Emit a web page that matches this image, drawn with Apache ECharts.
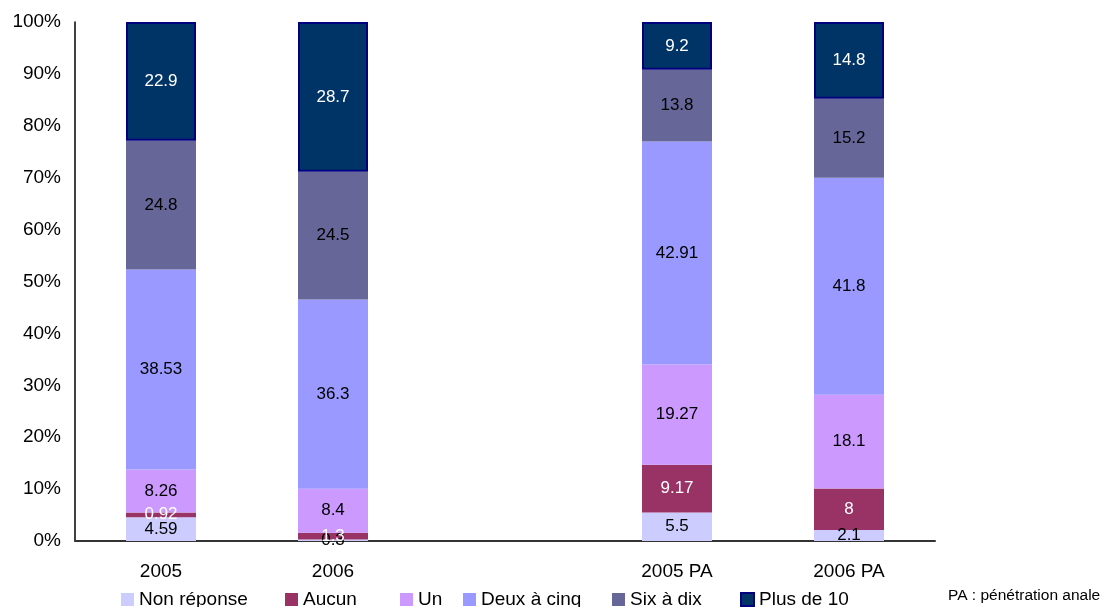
<!DOCTYPE html>
<html>
<head>
<meta charset="utf-8">
<script src="https://cdn.jsdelivr.net/npm/echarts@6/dist/echarts.min.js"></script>
<style>
html,body{margin:0;padding:0;background:#fff;}
#c{width:1112px;height:607px;}
</style>
</head>
<body>
<div id="c"></div>
<script>
const categories = ['2005', '2006', '', '2005 PA', '2006 PA'];
const seriesNames = ['Non réponse', 'Aucun', 'Un', 'Deux à cinq', 'Six à dix', 'Plus de 10'];
const nonReponse = [4.59, 0.3, null, 5.5, 2.1];
const aucun = [0.92, 1.3, null, 9.17, 8];
const un = [8.26, 8.4, null, 19.27, 18.1];
const deuxACinq = [38.53, 36.3, null, 42.91, 41.8];
const sixADix = [24.8, 24.5, null, 13.8, 15.2];
const plusDe10 = [22.9, 28.7, null, 9.2, 14.8];
const yTicks = ['0%', '10%', '20%', '30%', '40%', '50%', '60%', '70%', '80%', '90%', '100%'];

const colors = ['#CCCCFF', '#993366', '#CC99FF', '#9999FF', '#666699', '#003366'];
const labelColors = ['#000', '#fff', '#000', '#000', '#000', '#fff'];
const raw = [nonReponse, aucun, un, deuxACinq, sixADix, plusDe10];

const totals = categories.map((c, i) => raw.reduce((s, arr) => s + (arr[i] || 0), 0));

const font = 'Liberation Sans, Arial, sans-serif';

const series = raw.map((arr, k) => ({
  name: seriesNames[k],
  type: 'bar',
  stack: 'total',
  barWidth: 70,
  itemStyle: k === 5 ? { color: colors[k], borderColor: '#000080', borderWidth: 2 } : { color: colors[k] },
  label: {
    show: true,
    position: 'inside',
    color: labelColors[k],
    fontFamily: font,
    fontSize: 17,
    formatter: p => String(arr[p.dataIndex])
  },
  data: arr.map((v, i) => v == null ? null : v / totals[i] * 100)
}));

const legendLeft = [121, 285, 400, 463, 612, 740];
const legends = seriesNames.map((n, k) => ({
  data: [n],
  left: legendLeft[k],
  top: 590,
  itemWidth: 13,
  itemHeight: 13,
  itemGap: 0,
  textStyle: { fontFamily: font, fontSize: 19, color: '#000' },
  icon: 'rect',
  padding: 0,
  selectedMode: false
}));

const chart = echarts.init(document.getElementById('c'));
chart.setOption({
  animation: false,
  backgroundColor: '#fff',
  color: colors,
  grid: { left: 75, right: 177, top: 22, bottom: 66 },
  legend: legends,
  graphic: [{
    type: 'text',
    left: 948,
    top: 588,
    style: { text: 'PA : pénétration anale', font: '15.5px ' + font, fill: '#000' }
  }],
  xAxis: {
    type: 'category',
    data: categories,
    axisLine: { lineStyle: { color: '#333', width: 2 } },
    axisTick: { show: false },
    axisLabel: { fontFamily: font, fontSize: 19, color: '#000', margin: 21 }
  },
  yAxis: {
    type: 'value',
    min: 0,
    max: 100,
    interval: 10,
    axisLine: { show: true, lineStyle: { color: '#000', width: 1.5 } },
    axisTick: { show: false },
    splitLine: { show: false },
    axisLabel: { fontFamily: font, fontSize: 19, color: '#000', margin: 14, formatter: v => yTicks[Math.round(v / 10)] }
  },
  series: series
});
</script>
</body>
</html>
